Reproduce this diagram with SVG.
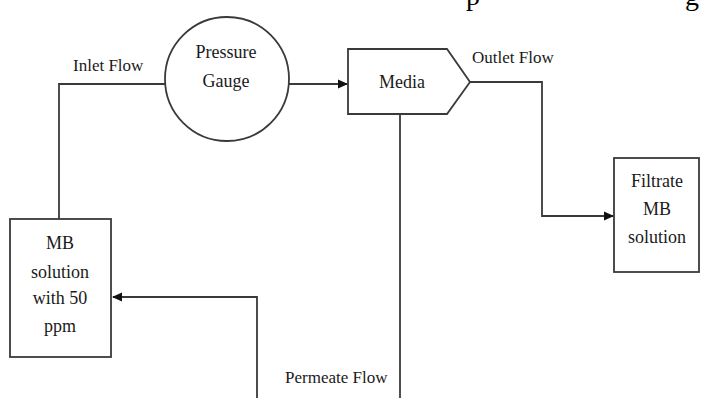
<svg xmlns="http://www.w3.org/2000/svg" width="713" height="398" viewBox="0 0 713 398">
  <style>
    .shape { fill: #ffffff; stroke: #3a3a3a; stroke-width: 1.8; }
    .conn { fill: none; stroke: #3a3a3a; stroke-width: 1.8; }
    text { font-family: "Liberation Serif", "Times New Roman", serif; fill: #1a1a1a; }
    .node { font-size: 18px; text-anchor: middle; }
    .lbl { font-size: 17px; }
    .frag { font-size: 28px; fill: #000000; }
  </style>
  <defs>
    <marker id="arrow" markerWidth="10" markerHeight="10" refX="9" refY="5" orient="auto" markerUnits="userSpaceOnUse">
      <path d="M0,0.5 L10,5 L0,9.5 Z" fill="#111111"/>
    </marker>
  </defs>
  <rect width="713" height="398" fill="#ffffff"/>

  <!-- cropped text fragments at top edge -->
  <text class="frag" x="466" y="5">p</text>
  <text class="frag" x="685" y="5">g</text>

  <g id="connectors">
    <!-- MB solution up to pressure gauge (Inlet Flow) -->
    <path class="conn" d="M59,219 L59,84 L165,84"/>
    <!-- Pressure gauge to Media -->
    <path class="conn" d="M289,84 L347,84" marker-end="url(#arrow)"/>
    <!-- Outlet Flow to Filtrate -->
    <path class="conn" d="M470,82 L542,82 L542,216 L613,216" marker-end="url(#arrow)"/>
    <!-- Permeate from Media bottom down -->
    <path class="conn" d="M400,114 L400,398"/>
    <!-- Return to MB solution -->
    <path class="conn" d="M257,398 L257,297 L113,297" marker-end="url(#arrow)"/>
  </g>

  <g id="labels">
    <text class="lbl" x="73" y="71">Inlet Flow</text>
    <text class="lbl" x="472" y="63">Outlet Flow</text>
    <text class="lbl" x="285" y="383">Permeate Flow</text>
  </g>

  <g id="mb-solution">
    <rect class="shape" x="10" y="219" width="101" height="138"/>
    <text class="node" x="60" y="249">MB</text>
    <text class="node" x="60" y="278">solution</text>
    <text class="node" x="60" y="304">with 50</text>
    <text class="node" x="60" y="332">ppm</text>
  </g>

  <g id="pressure-gauge">
    <circle class="shape" cx="227" cy="79" r="62"/>
    <text class="node" x="226" y="58">Pressure</text>
    <text class="node" x="226" y="87">Gauge</text>
  </g>

  <g id="media">
    <path class="shape" d="M348,49 L447,49 L470,82 L447,114 L348,114 Z"/>
    <text class="node" x="402" y="88">Media</text>
  </g>

  <g id="filtrate">
    <rect class="shape" x="614" y="158" width="85" height="114"/>
    <text class="node" x="657" y="187">Filtrate</text>
    <text class="node" x="657" y="215">MB</text>
    <text class="node" x="657" y="243">solution</text>
  </g>
</svg>
